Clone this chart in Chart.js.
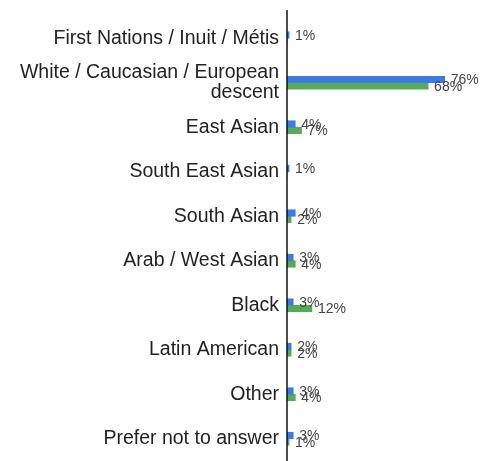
<!DOCTYPE html>
<html>
<head>
<meta charset="utf-8">
<script src="https://cdn.jsdelivr.net/npm/chart.js@4.4.1/dist/chart.umd.min.js"></script>
<style>
  html,body{margin:0;padding:0;background:#fff;overflow:hidden;}
  #wrap{position:relative;width:484px;height:461px;}
</style>
</head>
<body>
<div id="wrap"><canvas id="chart"></canvas></div>
<script>
const categories = [
  "First Nations / Inuit / Métis",
  ["White / Caucasian / European", "descent"],
  "East Asian",
  "South East Asian",
  "South Asian",
  "Arab / West Asian",
  "Black",
  "Latin American",
  "Other",
  "Prefer not to answer"
];
const blueValues  = [1, 76, 4, 1, 4, 3, 3, 2, 3, 3];
const greenValues = [0, 68, 7, 0, 2, 4, 12, 2, 4, 1];

// value labels just past the end of each bar
const valueLabels = {
  id: "valueLabels",
  afterDatasetsDraw(chart){
    const ctx = chart.ctx;
    ctx.save();
    ctx.font = "14px 'Liberation Sans', Arial, sans-serif";
    ctx.fillStyle = "#444";
    ctx.textAlign = "left";
    ctx.textBaseline = "middle";
    chart.data.datasets.forEach((ds, di) => {
      chart.getDatasetMeta(di).data.forEach((bar, i) => {
        const v = ds.data[i];
        if (!v) return;
        ctx.fillText(v + "%", bar.x + 6, bar.y + 1);
      });
    });
    ctx.restore();
  }
};

// vertical axis line, runs a little above the plot
const axisLine = {
  id: "axisLine",
  afterDraw(chart){
    const {ctx, chartArea} = chart;
    ctx.save();
    ctx.strokeStyle = "#111";
    ctx.lineWidth = 1.5;
    ctx.beginPath();
    ctx.moveTo(chartArea.left, 10);
    ctx.lineTo(chartArea.left, chart.height);
    ctx.stroke();
    ctx.restore();
  }
};

new Chart(document.getElementById("chart"), {
  type: "bar",
  data: {
    labels: categories,
    datasets: [
      {label: "Respondents", data: blueValues, backgroundColor: "#3b7be3",
       barThickness: 6.5, categoryPercentage: 0.47},
      {label: "Comparison", data: greenValues, backgroundColor: "#58a95a",
       barThickness: 6.5, categoryPercentage: 0.47}
    ]
  },
  options: {
    indexAxis: "y",
    responsive: true,
    maintainAspectRatio: false,
    animation: false,
    layout: {padding: {top: 16, bottom: 0, left: 0, right: 4}},
    plugins: {legend: {display: false}, tooltip: {enabled: false}},
    scales: {
      x: {display: false, min: 0, max: 93},
      y: {
        grid: {display: false, drawTicks: false},
        border: {display: false},
        ticks: {
          color: "#222",
          padding: 8,
          font: {family: "'Liberation Sans', Arial, sans-serif", size: 19.5, lineHeight: 1.03}
        },
        afterFit(scale){
          scale.width = 287;
          scale.paddingTop = 0;
          scale.paddingBottom = 0;
        }
      }
    }
  },
  plugins: [valueLabels, axisLine]
});
</script>
</body>
</html>
